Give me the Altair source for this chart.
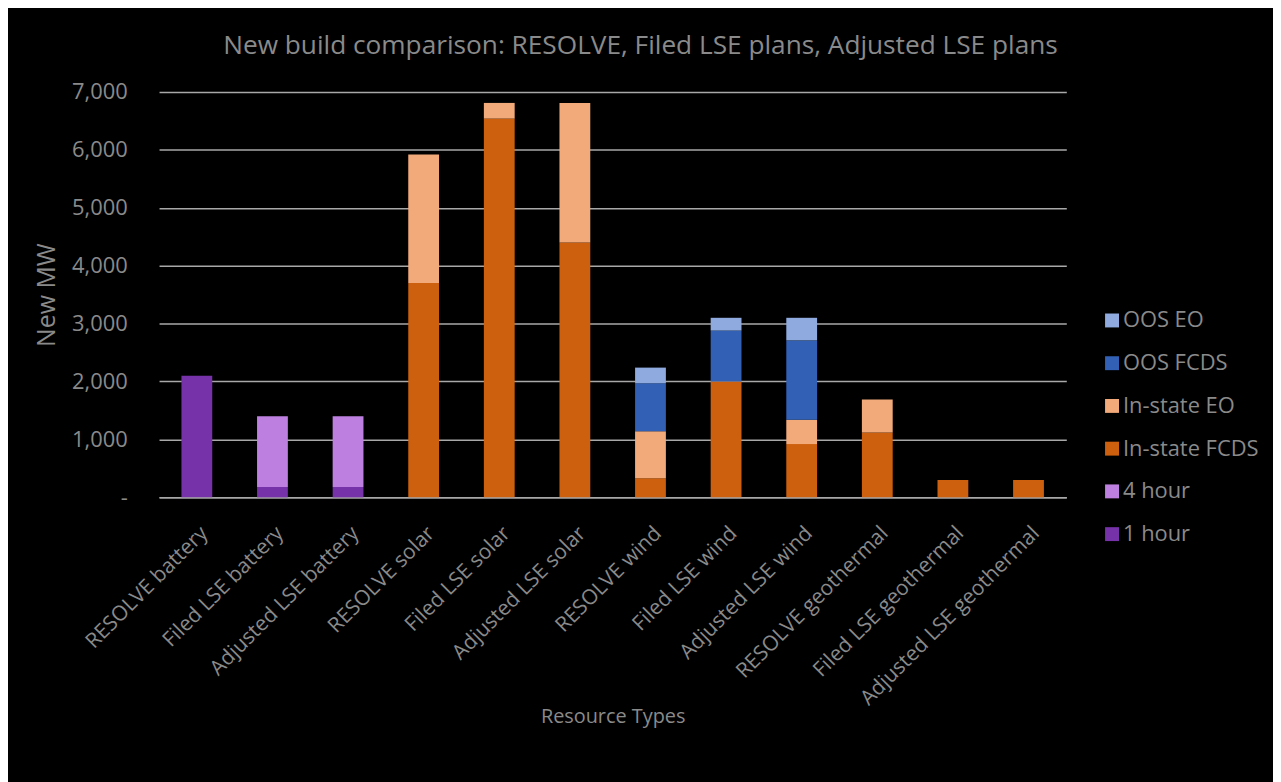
import altair as alt
import pandas as pd

categories = [
    "RESOLVE battery", "Filed LSE battery", "Adjusted LSE battery",
    "RESOLVE solar", "Filed LSE solar", "Adjusted LSE solar",
    "RESOLVE wind", "Filed LSE wind", "Adjusted LSE wind",
    "RESOLVE geothermal", "Filed LSE geothermal", "Adjusted LSE geothermal",
]

one_hour      = [2100, 180, 180, 0, 0, 0, 0, 0, 0, 0, 0, 0]
four_hour     = [0, 1220, 1220, 0, 0, 0, 0, 0, 0, 0, 0, 0]
instate_fcds  = [0, 0, 0, 3700, 6540, 4400, 330, 2000, 920, 1120, 300, 300]
instate_eo    = [0, 0, 0, 2220, 270, 2410, 810, 0, 420, 570, 0, 0]
oos_fcds      = [0, 0, 0, 0, 0, 0, 830, 880, 1370, 0, 0, 0]
oos_eo        = [0, 0, 0, 0, 0, 0, 270, 220, 390, 0, 0, 0]

series_names = ["1 hour", "4 hour", "In-state FCDS", "In-state EO", "OOS FCDS", "OOS EO"]
series_values = [one_hour, four_hour, instate_fcds, instate_eo, oos_fcds, oos_eo]
series_colors = ["#7632A8", "#BD80E0", "#CD600E", "#F3AA7A", "#3160B5", "#8EAADE"]

y_ticks = [0, 1000, 2000, 3000, 4000, 5000, 6000, 7000]

rows = []
for si, (name, vals) in enumerate(zip(series_names, series_values)):
    for cat, v in zip(categories, vals):
        if v > 0:
            rows.append({"category": cat, "series": name, "value": v, "order": si})
df = pd.DataFrame(rows)

legend_domain = list(reversed(series_names))
legend_range = list(reversed(series_colors))

text_color = "#8a8a8a"
grid_color = "#a8a8a8"
font = "Open Sans"

chart = alt.Chart(df).mark_bar(size=31).encode(
    x=alt.X(
        "category:N",
        sort=categories,
        scale=alt.Scale(paddingInner=0.59),
        axis=alt.Axis(
            title="Resource Types",
            labelAngle=-45,
            labelFontSize=21,
            labelColor=text_color,
            labelPadding=25,
            labelLimit=400,
            ticks=False,
            domainColor=grid_color,
            domainWidth=1.5,
            titleFontSize=20,
            titleFontWeight="normal",
            titleColor=text_color,
            titleY=221,
            titleBaseline="middle",
        ),
    ),
    y=alt.Y(
        "value:Q",
        stack="zero",
        scale=alt.Scale(domain=[0, 7000], nice=False),
        axis=alt.Axis(
            title="New MW",
            values=y_ticks,
            labelExpr="datum.value == 0 ? '-' : format(datum.value, ',')",
            labelFontSize=22,
            labelColor=text_color,
            labelPadding=32,
            ticks=False,
            domain=False,
            gridColor=grid_color,
            gridWidth=1.5,
            titleFontSize=25,
            titleFontWeight="normal",
            titleColor=text_color,
            titleX=-113,
            titleY=204,
            titleBaseline="middle",
        ),
    ),
    color=alt.Color(
        "series:N",
        scale=alt.Scale(domain=legend_domain, range=legend_range),
        legend=alt.Legend(
            title=None,
            orient="none",
            legendX=948,
            legendY=219,
            symbolType="square",
            symbolSize=196,
            symbolStrokeWidth=0,
            labelFontSize=22,
            labelColor=text_color,
            labelOffset=0,
            labelLimit=300,
            rowPadding=21,
            padding=0,
        ),
    ),
    order=alt.Order("order:Q", sort="ascending"),
).properties(
    width=913,
    height=408,
    background="#000000",
    padding={"left": 152, "top": 82, "right": 208, "bottom": 284},
    autosize=alt.AutoSizeParams(type="none"),
    title=alt.TitleParams(
        "New build comparison: RESOLVE, Filed LSE plans, Adjusted LSE plans",
        fontSize=26.4,
        fontWeight="normal",
        color=text_color,
        font=font,
        offset=22,
        dx=28,
    ),
).configure(font=font).configure_view(stroke=None)

chart.save("out.html", embed_options={"renderer": "svg", "actions": False})
